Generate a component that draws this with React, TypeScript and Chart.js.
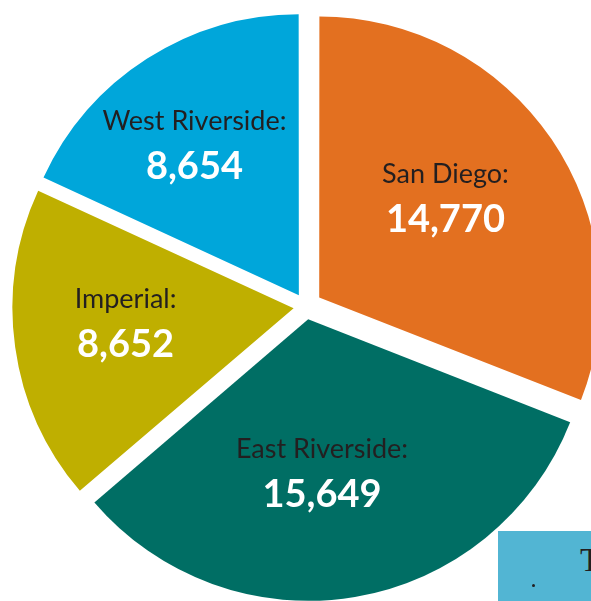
import React, { useEffect, useRef } from "react";
import { Chart, registerables } from "chart.js";

Chart.register(...registerables);

// ---- data ----
const regions = ["San Diego", "East Riverside", "Imperial", "West Riverside"];
const counts = [14770, 15649, 8652, 8654];
const sliceColors = ["#E37020", "#006E64", "#BFAF00", "#00A6DA"];

// ---- style / placement ----
const explodeOffsets = [64, 52, 50, 53];
const labelRadiusFrac = [0.631, 0.599, 0.647, 0.701];
const labelAngleNudgeDeg = [-3.6, 4.1, 2.8, -2];

const sliceLabelPlugin = {
  id: "sliceLabels",
  afterDatasetsDraw(chart: any) {
    const ctx = chart.ctx as CanvasRenderingContext2D;
    const meta = chart.getDatasetMeta(0);
    meta.data.forEach((arc: any, i: number) => {
      const p = arc.getProps(["x", "y", "startAngle", "endAngle", "outerRadius"], true);
      const mid = (p.startAngle + p.endAngle) / 2;
      const a = mid + (labelAngleNudgeDeg[i] * Math.PI) / 180;
      const r = labelRadiusFrac[i] * p.outerRadius;
      const cx = p.x + Math.cos(a) * r;
      const cy = p.y + Math.sin(a) * r;
      ctx.save();
      ctx.textAlign = "center";
      ctx.textBaseline = "alphabetic";
      ctx.fillStyle = "#231F20";
      ctx.font = "27px Lato";
      ctx.fillText(regions[i] + ":", cx, cy - 15);
      ctx.fillStyle = "#FFFFFF";
      ctx.font = "bold 38px Lato";
      ctx.fillText(counts[i].toLocaleString("en-US"), cx, cy + 34);
      ctx.restore();
    });
  },
};

function PieChart() {
  const ref = useRef<HTMLCanvasElement | null>(null);
  useEffect(() => {
    if (!ref.current) return;
    const chart = new Chart(ref.current, {
      type: "pie",
      data: {
        labels: regions,
        datasets: [
          {
            data: counts,
            backgroundColor: sliceColors,
            borderWidth: 0,
            offset: explodeOffsets,
            hoverOffset: 0,
          } as any,
        ],
      },
      options: {
        responsive: false,
        animation: false,
        radius: 280,
        rotation: 0,
        events: [],
        layout: { padding: 0 },
        plugins: {
          legend: { display: false },
          tooltip: { enabled: false },
        },
      } as any,
      plugins: [sliceLabelPlugin],
    });
    return () => chart.destroy();
  }, []);
  return (
    <canvas
      ref={ref}
      width={612}
      height={613}
      style={{ position: "absolute", left: 0, top: 0, width: 612, height: 613, display: "block" }}
    />
  );
}

export default function App() {
  return (
    <div
      style={{
        position: "fixed",
        left: 0,
        top: 0,
        width: 591,
        height: 601,
        overflow: "hidden",
        background: "#FFFFFF",
      }}
    >
      <PieChart />
      <div
        style={{
          position: "absolute",
          left: 498,
          top: 531,
          width: 120,
          height: 100,
          background: "#52B5D3",
        }}
      >
        <span
          style={{
            position: "absolute",
            left: 82,
            top: 13,
            fontFamily: "'Liberation Serif', serif",
            fontSize: 33,
            lineHeight: "33px",
            color: "#231F20",
          }}
        >
          T
        </span>
        <span
          style={{
            position: "absolute",
            left: 34,
            top: 53,
            width: 3,
            height: 3,
            borderRadius: 2,
            background: "#231F20",
          }}
        />
      </div>
    </div>
  );
}
